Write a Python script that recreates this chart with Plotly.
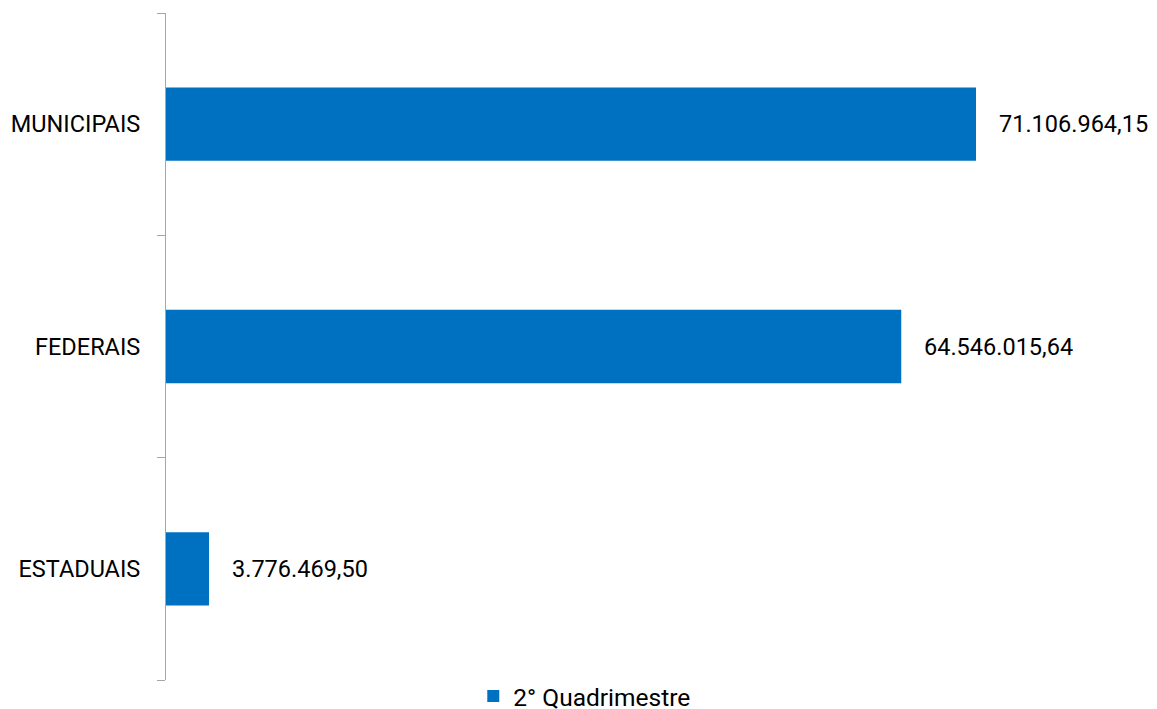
import plotly.graph_objects as go

categories = ["ESTADUAIS", "FEDERAIS", "MUNICIPAIS"]
values = [3776469.50, 64546015.64, 71106964.15]
labels = ["3.776.469,50", "64.546.015,64", "71.106.964,15"]
series_name = "2° Quadrimestre"

FONT = "Roboto"
FS = 23.5
fig = go.Figure()
fig.add_trace(go.Bar(
    y=categories, x=values, orientation="h", name=series_name,
    marker=dict(color="#0070C0", line=dict(width=0)),
    showlegend=True,
))
for c, v, t in zip(categories, values, labels):
    fig.add_annotation(x=v, y=c, text=t, showarrow=False, xanchor="left",
                       xshift=21, font=dict(family=FONT, size=FS, color="#000000"))

fig.update_layout(
    width=1157, height=709,
    margin=dict(l=166, r=10, t=13, b=29, autoexpand=False),
    paper_bgcolor="white", plot_bgcolor="white",
    bargap=0.67,
    font=dict(family=FONT, size=FS, color="#000000"),
    showlegend=True,
    legend=dict(orientation="h", x=0.505, xref="container", xanchor="center",
                y=0.0095, yref="paper", yanchor="top",
                font=dict(family=FONT, size=24.5), itemwidth=30),
    xaxis=dict(range=[0, 86120000], visible=False, showgrid=False, zeroline=False),
    yaxis=dict(showline=True, linecolor="#A6A6A6", linewidth=1,
               ticks="outside", tickson="boundaries", ticklen=8, tickcolor="#A6A6A6",
               ticklabelstandoff=20, showgrid=False),
)
fig.write_html("out.html")
